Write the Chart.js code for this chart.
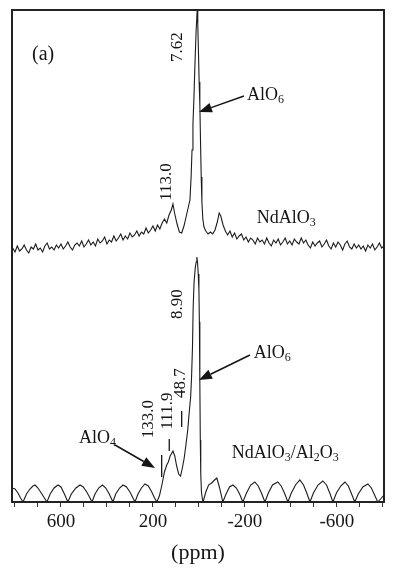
<!DOCTYPE html>
<html>
<head>
<meta charset="utf-8">
<script src="https://cdn.jsdelivr.net/npm/chart.js@4/dist/chart.umd.min.js"></script>
<style>
  html, body { margin: 0; padding: 0; background: #fff; }
  #wrap { width: 397px; height: 571px; position: relative; }
</style>
</head>
<body>
<div id="wrap"><canvas id="chart"></canvas></div>
<script>
// NdAlO3 spectrum (ppm, intensity)
const upperPpm = [810, 800, 790, 780, 770, 760, 750, 740, 730, 720, 710, 700, 690, 680, 670, 660, 650, 640, 630, 620,
  610, 600, 590, 580, 570, 560, 550, 540, 530, 520, 510, 500, 490, 480, 470, 460, 450, 440, 430, 420,
  410, 400, 390, 380, 370, 360, 350, 340, 330, 320, 310, 300, 290, 280, 270, 260, 250, 240, 230, 220,
  210, 200, 190, 180, 170, 160, 150, 140, 130, 120, 113, 105, 95, 85, 75, 65, 55, 45, 39, 34,
  30, 26, 22, 17, 12, 7.6, 5, 2, -1, -4, -7, -10, -13, -17, -22, -30, -40, -50, -60, -70,
  -80, -88, -95, -105, -115, -125, -135, -145, -155, -165, -175, -185, -195, -205, -215, -225, -235, -245, -255, -265,
  -275, -285, -295, -305, -315, -325, -335, -345, -355, -365, -375, -385, -395, -405, -415, -425, -435, -445, -455, -465,
  -475, -485, -495, -505, -515, -525, -535, -545, -555, -565, -575, -585, -595, -605, -615, -625, -635, -645, -655, -665,
  -675, -685, -695, -705, -715, -725, -735, -745, -755, -765, -775, -785, -795, -805];
const upperInt = [254, 250, 256, 251, 253, 257, 252, 249, 255, 253, 258, 252, 254, 250, 256, 259, 253, 255, 252, 257,
  254, 258, 253, 256, 260, 255, 252, 257, 259, 256, 261, 255, 258, 262, 257, 260, 256, 263, 259, 261,
  265, 258, 262, 260, 266, 261, 264, 268, 262, 266, 263, 269, 265, 267, 271, 266, 270, 268, 274, 269,
  272, 276, 271, 277, 273, 279, 283, 279, 287, 292, 298, 288, 278, 270, 269, 276, 286, 296, 302, 325,
  352, 378, 402, 440, 472, 492, 478, 450, 420, 398, 360, 325, 300, 283, 275, 271, 268, 270, 268, 272,
  280, 289, 286, 277, 271, 267, 271, 265, 269, 263, 266, 268, 262, 265, 260, 264, 262, 258, 264, 260,
  262, 258, 264, 259, 256, 262, 259, 263, 257, 260, 264, 258, 261, 257, 263, 260, 258, 264, 259, 262,
  257, 254, 260, 256, 259, 261, 255, 258, 262, 256, 253, 259, 255, 260, 257, 252, 258, 261, 255, 253,
  258, 254, 257, 253, 256, 251, 257, 254, 258, 252, 255, 259, 254, 256];

// NdAlO3/Al2O3 spectrum (ppm, intensity)
const lowerPpm = [813, 800, 787, 776, 765, 750, 735, 722, 713, 700, 686, 672, 661, 647, 630, 613, 600, 585, 570, 555,
  535, 517, 503, 488, 476, 465, 452, 436, 420, 405, 390, 374, 362, 345, 330, 315, 300, 289, 278, 265,
  250, 235, 220, 205, 193, 183, 172, 162, 150, 140, 133, 125, 113, 105, 97, 88, 80, 72, 64, 56,
  48.7, 42, 36, 32, 28, 25, 21, 16, 12, 8.9, 6, 3, 0, -2, -4, -6, -8, -11, -15, -18,
  -30, -42, -55, -68, -78, -90, -104, -118, -133, -148, -163, -177, -191, -207, -225, -243, -258, -272, -287, -302,
  -320, -343, -358, -372, -387, -402, -420, -439, -455, -469, -483, -498, -518, -539, -555, -569, -583, -598, -617, -635,
  -650, -664, -678, -693, -713, -735, -750, -764, -778, -790, -805];
const lowerInt = [14, 13, 9, 4, 0, 8, 13, 16, 17, 14, 9, 4, 0, 8, 14, 17, 15, 8, 0, 8,
  14, 17, 15, 10, 5, 0, 8, 14, 17, 14, 8, 0, 8, 14, 17, 15, 10, 5, 0, 8,
  14, 18, 16, 10, 4, 0, 6, 16, 30, 37, 40, 46, 51, 46, 36, 28, 26, 34, 44, 58,
  72, 90, 105, 125, 155, 195, 220, 234, 240, 245, 240, 228, 212, 180, 120, 62, 28, 10, 3, 0,
  10, 17, 19, 22, 24, 14, 0, 8, 15, 17, 14, 8, 0, 9, 17, 20, 16, 9, 0, 9,
  17, 20, 16, 9, 0, 9, 17, 22, 17, 9, 0, 9, 17, 21, 17, 9, 0, 9, 16, 20,
  16, 8, 0, 8, 15, 18, 14, 7, 0, 3, 7];

const tickLabels = [600, 200, -200, -600];
const tickValues = [-800, -700, -600, -500, -400, -300, -200, -100, 0, 100, 200, 300, 400, 500, 600, 700, 800];

const SERIF = '"Liberation Serif", "DejaVu Serif", serif';

// annotation texts, placed in data units (ppm, intensity)
const rotatedLabels = [
  { text: '7.62', x: 91, y: 455 },
  { text: '113.0', x: 139, y: 320 },
  { text: '8.90', x: 91, y: 198 },
  { text: '48.7', x: 78, y: 119 },
  { text: '111.9', x: 137, y: 91 },
  { text: '133.0', x: 217, y: 83 }
];
const markerLines = [
  { x: 75, y1: 91, y2: 75 },
  { x: 129, y1: 63, y2: 51 },
  { x: 162, y1: 47, y2: 25 }
];
const formulaLabels = [
  { parts: [['AlO', 0], ['6', 1]], x: -209, y: 402 },
  { parts: [['NdAlO', 0], ['3', 1]], x: -252, y: 279 },
  { parts: [['AlO', 0], ['4', 1]], x: 522, y: 59 },
  { parts: [['AlO', 0], ['6', 1]], x: -239, y: 144 },
  { parts: [['NdAlO', 0], ['3', 1], ['/Al', 0], ['2', 1], ['O', 0], ['3', 1]], x: -143, y: 44 }
];
const arrows = [
  { x1: -196, y1: 406, x2: 0, y2: 390 },
  { x1: 365, y1: 57, x2: 191, y2: 34 },
  { x1: -222, y1: 147, x2: 0, y2: 122 }
];

const overlay = {
  id: 'overlay',
  afterDraw(chart) {
    const ctx = chart.ctx;
    const xs = chart.scales.x, ys = chart.scales.y;
    const area = chart.chartArea;
    const px = v => xs.getPixelForValue(v);
    const py = v => ys.getPixelForValue(v);
    ctx.save();

    // frame
    ctx.strokeStyle = '#222';
    ctx.lineWidth = 2;
    ctx.strokeRect(area.left, area.top, area.right - area.left, area.bottom - area.top);

    ctx.fillStyle = '#151515';
    ctx.strokeStyle = '#151515';

    // (a)
    ctx.font = '20px ' + SERIF;
    ctx.textAlign = 'left';
    ctx.textBaseline = 'alphabetic';
    ctx.fillText('(a)', px(726), py(442));

    // rotated peak values
    ctx.font = '17px ' + SERIF;
    ctx.textAlign = 'center';
    ctx.textBaseline = 'middle';
    rotatedLabels.forEach(l => {
      ctx.save();
      ctx.translate(px(l.x), py(l.y));
      ctx.rotate(-Math.PI / 2);
      ctx.fillText(l.text, 0, 0);
      ctx.restore();
    });

    ctx.lineWidth = 1.3;
    markerLines.forEach(m => {
      ctx.beginPath();
      ctx.moveTo(px(m.x), py(m.y1));
      ctx.lineTo(px(m.x), py(m.y2));
      ctx.stroke();
    });

    // formulas with subscripts
    ctx.textAlign = 'left';
    ctx.textBaseline = 'alphabetic';
    formulaLabels.forEach(f => {
      let cx = px(f.x);
      const by = py(f.y);
      f.parts.forEach(([t, sub]) => {
        ctx.font = (sub ? '12px ' : '18px ') + SERIF;
        ctx.fillText(t, cx, by + (sub ? 3 : 0));
        cx += ctx.measureText(t).width;
      });
    });

    // arrows
    arrows.forEach(a => {
      const x1 = px(a.x1), y1 = py(a.y1), x2 = px(a.x2), y2 = py(a.y2);
      const ang = Math.atan2(y2 - y1, x2 - x1);
      const len = 13, hw = 5;
      const bx = x2 - len * Math.cos(ang), by = y2 - len * Math.sin(ang);
      ctx.lineWidth = 1.5;
      ctx.beginPath();
      ctx.moveTo(x1, y1);
      ctx.lineTo(bx, by);
      ctx.stroke();
      ctx.beginPath();
      ctx.moveTo(x2, y2);
      ctx.lineTo(bx + hw * Math.sin(ang), by - hw * Math.cos(ang));
      ctx.lineTo(bx - hw * Math.sin(ang), by + hw * Math.cos(ang));
      ctx.closePath();
      ctx.fill();
    });

    ctx.restore();
  }
};

const canvas = document.getElementById('chart');
canvas.width = 397;
canvas.height = 571;

new Chart(canvas, {
  type: 'line',
  data: {
    datasets: [{
      data: upperPpm.map((v, i) => ({ x: v, y: upperInt[i] })),
      borderColor: '#1c1c1c',
      borderWidth: 1.1,
      pointRadius: 0,
      tension: 0
    }, {
      data: lowerPpm.map((v, i) => ({ x: v, y: lowerInt[i] })),
      borderColor: '#1c1c1c',
      borderWidth: 1.1,
      pointRadius: 0,
      tension: 0
    }]
  },
  options: {
    responsive: false,
    animation: false,
    layout: { padding: { left: 12, right: 13, top: 10, bottom: 0 } },
    plugins: {
      legend: { display: false },
      tooltip: { enabled: false }
    },
    scales: {
      x: {
        type: 'linear',
        reverse: true,
        min: -805,
        max: 813,
        afterBuildTicks: scale => {
          scale.ticks = tickValues.map(v => ({ value: v }));
        },
        afterFit: scale => {
          scale.height = 69;
        },
        ticks: {
          autoSkip: false,
          maxRotation: 0,
          padding: 4,
          color: '#151515',
          font: { family: SERIF, size: 19 },
          callback: v => tickLabels.includes(v) ? String(v) : ''
        },
        grid: {
          drawOnChartArea: false,
          drawTicks: true,
          tickLength: 5,
          color: '#333',
          lineWidth: 1
        },
        border: { display: false },
        title: {
          display: true,
          text: '(ppm)',
          color: '#151515',
          font: { family: SERIF, size: 22 },
          padding: { top: 0, bottom: 5 }
        }
      },
      y: {
        display: false,
        min: 0,
        max: 492
      }
    }
  },
  plugins: [overlay]
});
</script>
</body>
</html>
